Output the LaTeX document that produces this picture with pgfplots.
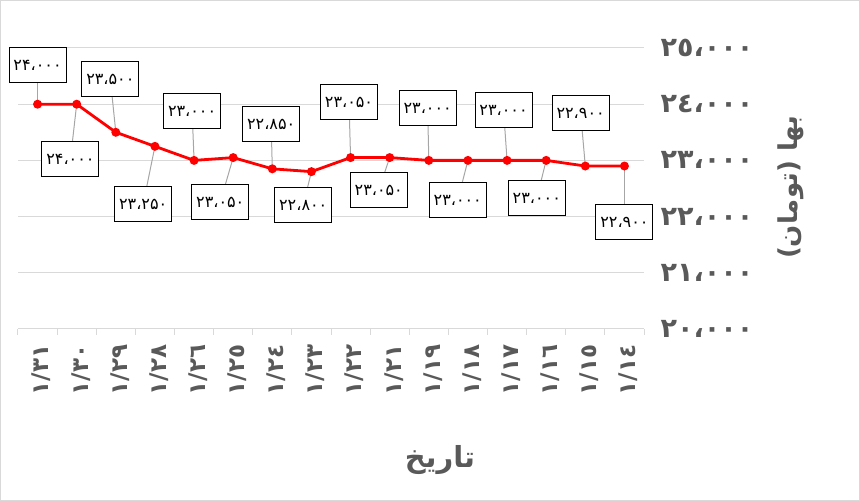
\documentclass[border=0pt]{standalone}
\usepackage{pgfplots}
\pgfplotsset{compat=1.18}
\usepackage{pgfplotstable}
\usepackage{fontspec}
\setmainfont{DejaVu Sans}
\newfontfamily\arabicfont[Script=Arabic]{DejaVu Sans}
\TeXXeTstate=1
\definecolor{txtgray}{HTML}{595959}
\definecolor{gridgray}{HTML}{D9D9D9}
\definecolor{leadgray}{HTML}{A6A6A6}

% x = category index, y = price, lx/ly = where the data label box sits
\pgfplotstableread{
x  y     lx    ly    lab
0  24000 0.00  24697 ۲۴،۰۰۰
1  24000 0.84  23025 ۲۴،۰۰۰
2  23500 1.86  24448 ۲۳،۵۰۰
3  23250 2.70  22224 ۲۳،۲۵۰
4  23000 3.95  23879 ۲۳،۰۰۰
5  23050 4.67  22260 ۲۳،۰۵۰
6  22850 5.97  23648 ۲۲،۸۵۰
7  22800 6.79  22206 ۲۲،۸۰۰
8  23050 7.96  24039 ۲۳،۰۵۰
9  23050 8.72  22473 ۲۳،۰۵۰
10 23000 9.97  23932 ۲۳،۰۰۰
11 23000 10.74 22295 ۲۳،۰۰۰
12 23000 11.91 23897 ۲۳،۰۰۰
13 23000 12.76 22331 ۲۳،۰۰۰
14 22900 13.88 23843 ۲۲،۹۰۰
15 22900 15.00 21904 ۲۲،۹۰۰
}\pricedata

\begin{document}
\begin{tikzpicture}
\draw[gridgray,line width=0.5pt] (0.25pt,0.25pt) rectangle (429.75pt,250.25pt);
\begin{axis}[
  at={(9pt,86pt)}, anchor=south west,
  scale only axis, width=313pt, height=140.5pt,
  xmin=-0.5, xmax=15.5, ymin=20000, ymax=25000,
  clip=false, scaled y ticks=false,
  axis x line*=bottom, axis y line*=right,
  y axis line style={draw=none},
  x axis line style={gridgray, line width=0.5pt, -},
  ymajorgrids, grid style={gridgray, line width=0.5pt},
  ytick={20000,21000,...,25000},
  yticklabels={٢٠،٠٠٠,٢١،٠٠٠,٢٢،٠٠٠,٢٣،٠٠٠,٢٤،٠٠٠,٢٥،٠٠٠},
  xtick={0,...,15},
  xticklabels={١/٣١,١/٣٠,١/٢٩,١/٢٨,١/٢٦,١/٢٥,١/٢٤,١/٢٣,١/٢٢,١/٢١,١/١٩,١/١٨,١/١٧,١/١٦,١/١٥,١/١٤},
  minor xtick={-0.5,0.5,...,15.5},
  major tick style={draw=none},
  minor tick style={gridgray, line width=0.5pt},
  minor tick length=3pt, tick align=outside,
  yticklabel style={anchor=west, xshift=0.5pt, text=txtgray,
    font=\arabicfont\bfseries\fontsize{13.5}{13.5}\selectfont},
  xticklabel style={rotate=90, anchor=east, yshift=-2pt, text=txtgray,
    font=\arabicfont\bfseries\fontsize{11.5}{11.5}\selectfont},
  every axis x label/.style={at={(axis description cs:0.674,-0.466)}, anchor=center,
    text=txtgray, font=\arabicfont\bfseries\fontsize{14.5}{14.5}\selectfont},
  every axis y label/.style={at={(axis description cs:1.235,0.505)}, anchor=center, rotate=90,
    text=txtgray, font=\arabicfont\bfseries\fontsize{13}{13}\selectfont},
  xlabel={\beginR تاریخ\endR},
  ylabel={\beginR بها (تومان)\endR},
]
\addplot[red, line width=1.4pt, mark=*, mark size=1.5pt] table[x=x, y=y] {\pricedata};
\addplot[leadgray, line width=0.5pt, -,
  quiver={u=\thisrow{lx}-\thisrow{x}, v=\thisrow{ly}-\thisrow{y}}] table[x=x, y=y] {\pricedata};
\addplot[draw=none, mark=none, point meta=explicit symbolic,
  nodes near coords,
  every node near coord/.style={anchor=center, draw=black, line width=0.5pt, fill=white,
    minimum width=28.5pt, minimum height=17.5pt, inner sep=0pt, text=black,
    font=\arabicfont\fontsize{8}{8}\selectfont}]
  table[x=lx, y=ly, meta=lab] {\pricedata};
\end{axis}
\pgfresetboundingbox
\path[use as bounding box] (0,0) rectangle (430pt,250.5pt);
\end{tikzpicture}
\end{document}
